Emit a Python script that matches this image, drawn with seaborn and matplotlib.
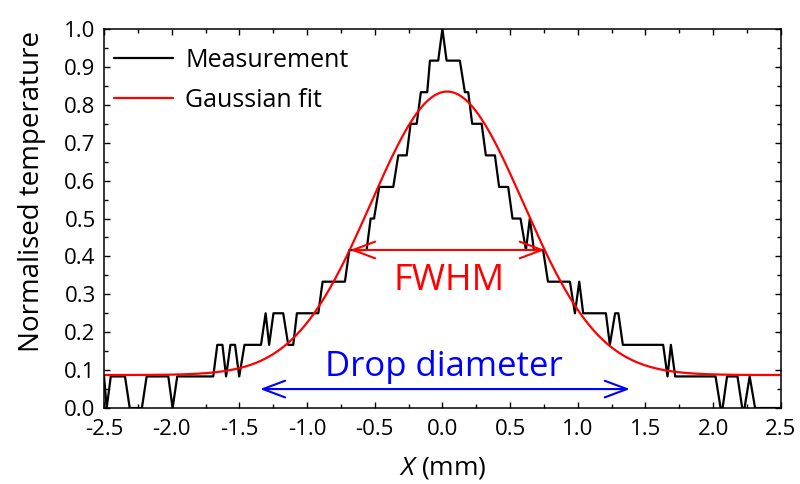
import numpy as np
import pandas as pd
import matplotlib
matplotlib.use("Agg")
import matplotlib.pyplot as plt
from matplotlib.ticker import AutoMinorLocator, FormatStrFormatter
import seaborn as sns

# ---- data ----
# measured profile: vertices of the polyline (x in mm, level in twelfths of max)
meas_x = [-2.500, -2.480, -2.450, -2.345, -2.310, -2.220, -2.185, -2.025, -1.993, -1.959,
          -1.693, -1.663, -1.625, -1.598, -1.566, -1.532, -1.501, -1.462, -1.340, -1.306,
          -1.280, -1.248, -1.176, -1.139, -1.102, -1.075, -0.917, -0.885, -0.720, -0.688,
          -0.560, -0.530, -0.505, -0.467, -0.363, -0.326, -0.264, -0.235, -0.190, -0.159,
          -0.112, -0.092, -0.031, 0.000, 0.031, 0.129, 0.166, 0.191, 0.220, 0.290,
          0.321, 0.388, 0.419, 0.486, 0.518, 0.577, 0.617, 0.646, 0.676, 0.744,
          0.780, 0.942, 0.979, 1.011, 1.040, 1.208, 1.237, 1.276, 1.300, 1.333,
          1.631, 1.663, 1.688, 1.720, 2.018, 2.055, 2.070, 2.103, 2.180, 2.215,
          2.232, 2.270, 2.310, 2.500]
meas_level = [1, 0, 1, 1, 0, 0, 1, 1, 0, 1,
              1, 2, 2, 1, 2, 2, 1, 2, 2, 3,
              2, 3, 3, 2, 2, 3, 3, 4, 4, 5,
              5, 6, 6, 7, 7, 8, 8, 9, 9, 10,
              10, 11, 11, 12, 11, 11, 10, 10, 9, 9,
              8, 8, 7, 7, 6, 6, 5, 6, 5, 5,
              4, 4, 3, 4, 3, 3, 2, 3, 3, 2,
              2, 1, 2, 1, 1, 0, 0, 1, 1, 0,
              0, 1, 0, 0]
n_levels = 12

# Gaussian fit parameters
fit_y0 = 0.087
fit_A = 0.748
fit_xc = 0.035
fit_sigma = 0.563

# annotation values
fwhm_x = [-0.683, 0.757]
fwhm_y = 0.417
drop_x = [-1.348, 1.385]
drop_y = 0.050

series_labels = ["Measurement", "Gaussian fit"]
x_ticks = [-2.5, -2.0, -1.5, -1.0, -0.5, 0.0, 0.5, 1.0, 1.5, 2.0, 2.5]
y_ticks = [0.0, 0.1, 0.2, 0.3, 0.4, 0.5, 0.6, 0.7, 0.8, 0.9, 1.0]

# ---- build tables ----
meas = pd.DataFrame({"x": meas_x, "y": np.array(meas_level) / n_levels})
fx = np.linspace(-2.5, 2.5, 500)
fit = pd.DataFrame({"x": fx,
                    "y": fit_y0 + fit_A * np.exp(-(fx - fit_xc) ** 2 / (2 * fit_sigma ** 2))})

sns.set_theme(style="ticks")
plt.rcParams["font.family"] = ["Open Sans", "DejaVu Sans"]
plt.rcParams["mathtext.fontset"] = "custom"
plt.rcParams["mathtext.rm"] = "Open Sans"
plt.rcParams["mathtext.it"] = "Open Sans:italic"
plt.rcParams["axes.unicode_minus"] = False
plt.rcParams["text.color"] = "black"
plt.rcParams["axes.labelcolor"] = "black"
plt.rcParams["xtick.color"] = "black"
plt.rcParams["ytick.color"] = "black"

fig = plt.figure(figsize=(8, 4.84), dpi=100)
ax = fig.add_axes([0.13, 0.157, 0.846, 0.783])

sns.lineplot(data=meas, x="x", y="y", ax=ax, color="black", lw=1.6,
             estimator=None, sort=False, label=series_labels[0])
sns.lineplot(data=fit, x="x", y="y", ax=ax, color="#ff0000", lw=1.6,
             estimator=None, sort=False, label=series_labels[1])

ax.set_xlim(-2.5, 2.5)
ax.set_ylim(0.0, 1.0)
ax.set_xticks(x_ticks)
ax.set_yticks(y_ticks)
ax.xaxis.set_major_formatter(FormatStrFormatter("%.1f"))
ax.yaxis.set_major_formatter(FormatStrFormatter("%.1f"))
ax.xaxis.set_minor_locator(AutoMinorLocator(2))
ax.yaxis.set_minor_locator(AutoMinorLocator(2))
ax.tick_params(which="both", direction="in", top=True, right=True,
               width=1.0, color="black")
ax.tick_params(which="major", length=4, labelsize=16, labelcolor="black")
ax.tick_params(axis="x", which="major", pad=8)
ax.tick_params(axis="y", which="major", pad=6)
ax.tick_params(which="minor", length=3)
for s in ax.spines.values():
    s.set_visible(True)
    s.set_linewidth(1.1)
    s.set_color("black")

ax.set_xlabel(r"$X$ (mm)", fontsize=19, labelpad=11, color="black")
ax.set_ylabel("Normalised temperature", fontsize=20, color="black")
ax.yaxis.set_label_coords(-0.086, 0.57)

ax.legend(loc="upper left", bbox_to_anchor=(0.0, 0.976), frameon=False, fontsize=18,
          handlelength=2.35, handletextpad=0.5, labelspacing=0.6,
          borderaxespad=0.0, borderpad=0.4, labelcolor="black")

# FWHM arrow and text
ax.annotate("", xy=(fwhm_x[0], fwhm_y), xytext=(fwhm_x[1], fwhm_y),
            arrowprops=dict(arrowstyle="<->,head_length=0.8,head_width=0.3",
                            color="#ff0000", lw=1.5, mutation_scale=20,
                            shrinkA=0, shrinkB=0))
ax.text(0.047, 0.311, "FWHM", color="#ff0000", fontsize=26, ha="center", va="baseline")

# Drop diameter arrow and text
ax.annotate("", xy=(drop_x[0], drop_y), xytext=(drop_x[1], drop_y),
            arrowprops=dict(arrowstyle="<->,head_length=0.8,head_width=0.3",
                            color="#0000ff", lw=1.5, mutation_scale=20,
                            shrinkA=0, shrinkB=0))
ax.text(0.011, 0.085, "Drop diameter", color="#0000ff", fontsize=25, ha="center", va="baseline")

fig.savefig("out.png", dpi=100)
